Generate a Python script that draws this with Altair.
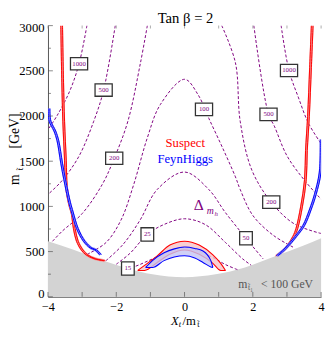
import altair as alt
import pandas as pd

# ---------------- data ----------------
# excluded region boundary (m_stop1 < 100 GeV)
gray_x = [-4.0, -3.23, -2.37, -1.66, -0.94, 0.0, 0.91, 1.77, 2.69, 3.49, 4.0]
gray_y = [615, 518, 399, 313, 248, 216, 248, 324, 453, 567, 647]

# Suspect (red) left / right branches
red_l_x = [-3.60, -3.57, -3.54, -3.49, -3.46, -3.37, -3.29, -3.23, -3.14, -3.00, -2.86, -2.63, -2.34]
red_l_y = [3000, 2374, 1942, 1511, 1219, 1025, 917, 755, 615, 518, 464, 421, 399]
red_r_x = [3.74, 3.69, 3.63, 3.57, 3.54, 3.43, 3.29, 3.20, 2.97, 2.69]
red_r_y = [3000, 2536, 1996, 1619, 1295, 1003, 755, 669, 540, 453]
# FeynHiggs (blue) left / right branches
blue_l_x = [-3.97, -3.94, -3.80, -3.71, -3.60, -3.51, -3.37, -3.29, -3.14, -2.94, -2.74, -2.60, -2.46]
blue_l_y = [2083, 1942, 1834, 1726, 1478, 1295, 1047, 939, 755, 615, 540, 518, 464]
blue_r_x = [4.0, 3.97, 3.83, 3.69, 3.49, 3.26, 2.97, 2.71]
blue_r_y = [1740, 1370, 1133, 971, 788, 669, 540, 453]

# central bands
red_c_x = [-1.37, -1.17, -0.80, -0.43, 0.0, 0.43, 0.83, 1.06, 1.20]
red_c_out = [291, 348, 453, 572, 615, 572, 464, 370, 291]
red_c_in = [291, 291, 380, 470, 518, 470, 370, 291, 291]
blue_c_x = [-1.14, -0.94, -0.60, -0.30, 0.0, 0.30, 0.54, 0.77, 0.83]
blue_c_out = [324, 400, 486, 530, 550, 535, 507, 400, 324]
blue_c_in = [324, 324, 400, 440, 453, 430, 380, 330, 324]

# fine-tuning contours (Delta), level -> branch points
contours = {
    "1000L": ([-2.86, -3.09, -3.37, -3.74, -4.0], [3000, 2578, 2270, 2000, 1850]),
    "500L": ([-2.03, -2.37, -2.66, -3.10, -3.60, -4.0], [3000, 2287, 1942, 1550, 1280, 1133]),
    "200L": ([-1.09, -1.29, -1.66, -2.06, -2.40, -3.00, -3.60, -3.90], [3000, 2590, 1942, 1532, 1250, 920, 720, 600]),
    "100": ([-2.85, -2.30, -1.86, -1.49, -1.09, -0.71, 0.0, 0.40, 0.71, 1.11, 1.49, 1.63, 2.00, 2.60, 3.20],
            [470, 600, 850, 1241, 1759, 2126, 2406, 2233, 1975, 1651, 1327, 1187, 900, 680, 545]),
    "50": ([-2.30, -1.80, -1.30, -0.80, 0.0, 0.71, 1.20, 1.80, 2.30],
           [400, 580, 850, 1187, 1380, 1187, 930, 647, 420]),
    "25": ([-2.0, -1.6, -1.09, -0.6, 0.0, 0.6, 1.2, 1.7, 1.95],
           [360, 480, 690, 800, 863, 800, 600, 420, 350]),
    "15": ([-1.70, -1.46, -0.8, 0.0, 0.8, 1.2, 1.55], [308, 334, 440, 550, 440, 356, 300]),
    "200R": ([1.09, 1.49, 1.63, 1.97, 2.54, 3.20, 4.0], [3000, 2590, 1942, 1403, 1047, 810, 700]),
    "500R": ([2.03, 2.46, 2.63, 3.00, 3.50, 4.0], [3000, 2018, 1888, 1560, 1295, 1079]),
    "1000R": ([2.83, 3.06, 3.34, 3.63, 4.0], [3000, 2503, 2200, 1920, 1694]),
}

label_text = ["1000", "500", "200", "100", "500", "1000", "200", "50", "25", "15"]
label_x = [-3.09, -2.37, -2.06, 0.57, 2.46, 3.06, 2.54, 1.80, -1.09, -1.66]
label_y = [2578, 2287, 1532, 2073, 2018, 2503, 1047, 647, 690, 313]

x_ticks = [-4, -2, 0, 2, 4]
x_minor = [-3, -1, 1, 3]
y_ticks = [0, 500, 1000, 1500, 2000, 2500, 3000]
y_minor = [250, 750, 1250, 1750, 2250, 2750]

# ---------------- build tables ----------------
gray_df = pd.DataFrame({"x": gray_x, "y": gray_y})

def branch(xs, ys, name):
    return pd.DataFrame({"x": xs, "y": ys, "o": range(len(xs)), "b": name})

red_side = pd.concat([branch(red_l_x, red_l_y, "L"), branch(red_r_x, red_r_y, "R")])
blue_side = pd.concat([branch(blue_l_x, blue_l_y, "L"), branch(blue_r_x, blue_r_y, "R")])
red_c = pd.DataFrame({"x": red_c_x, "y": red_c_out, "y2": red_c_in})
blue_c = pd.DataFrame({"x": blue_c_x, "y": blue_c_out, "y2": blue_c_in})

rows = []
for k, (xs_, ys_) in contours.items():
    for i, (a, b) in enumerate(zip(xs_, ys_)):
        rows.append({"c": k, "o": i, "x": a, "y": b})
cont_df = pd.DataFrame(rows)
lab_df = pd.DataFrame({"t": label_text, "x": label_x, "y": label_y})

W, H = 280, 278
xs = alt.Scale(domain=[-4, 4], nice=False, zero=False)
ys = alt.Scale(domain=[0, 3000], nice=False, zero=False)
SERIF = "Liberation Serif, Times New Roman, Times, serif"
PURPLE = "#800080"

X = alt.X("x:Q", scale=xs, axis=alt.Axis(values=x_ticks, title=None, grid=False, labelFont=SERIF,
                                          labelFontSize=12.5, labelColor="black", tickSize=0, format="d",
                                          labelPadding=4, domainColor="#555", labelFlush=False))
Y = alt.Y("y:Q", scale=ys, axis=alt.Axis(values=y_ticks, title=None, grid=False, labelFont=SERIF,
                                          labelFontSize=13, labelColor="black", tickSize=0, format="d",
                                          labelPadding=4, domainColor="#555", labelFlush=True,
                                          labelFlushOffset=4))

gray = alt.Chart(gray_df).mark_area(color="#d3d3d3", opacity=1, interpolate="monotone").encode(
    x=X, y=Y, y2=alt.datum(0))

cont = alt.Chart(cont_df).mark_line(color=PURPLE, strokeDash=[3, 2], strokeWidth=1,
                                    interpolate="catmull-rom", clip=True).encode(
    x="x:Q", y="y:Q", detail="c:N", order="o:Q")

def side(df, col, light):
    base = alt.Chart(df)
    under = base.mark_line(color=light, strokeWidth=3, interpolate="catmull-rom", clip=True).encode(
        x="x:Q", y="y:Q", detail="b:N", order="o:Q")
    a = base.transform_calculate(xa="datum.x - 0.025").mark_line(
        color=col, strokeWidth=1, interpolate="catmull-rom", clip=True).encode(
        x="xa:Q", y="y:Q", detail="b:N", order="o:Q")
    b = base.transform_calculate(xb="datum.x + 0.025").mark_line(
        color=col, strokeWidth=1, interpolate="catmull-rom", clip=True).encode(
        x="xb:Q", y="y:Q", detail="b:N", order="o:Q")
    return under + a + b

def center(df, col, light):
    base = alt.Chart(df)
    fill = base.mark_area(color=light, opacity=0.8, interpolate="monotone").encode(x="x:Q", y="y:Q", y2="y2:Q")
    l1 = base.mark_line(color=col, strokeWidth=1.1, interpolate="monotone").encode(x="x:Q", y="y:Q")
    l2 = base.mark_line(color=col, strokeWidth=1.1, interpolate="monotone").encode(x="x:Q", y="y2:Q")
    return fill + l1 + l2

# inward frame ticks
xt_major = alt.Chart(pd.DataFrame({"x": x_ticks + x_minor})).mark_tick(
    color="#555", thickness=1, size=5).encode(x="x:Q", y=alt.value(H - 2.5))
xt_top = alt.Chart(pd.DataFrame({"x": x_ticks + x_minor})).mark_tick(
    color="#888", thickness=1, size=3).encode(x="x:Q", y=alt.value(1.5))
yt_major = alt.Chart(pd.DataFrame({"y": y_ticks})).mark_tick(
    color="#555", thickness=1, size=5).encode(y="y:Q", x=alt.value(2.5))
yt_minor = alt.Chart(pd.DataFrame({"y": y_minor})).mark_tick(
    color="#555", thickness=1, size=3).encode(y="y:Q", x=alt.value(1.5))

box_wide = alt.Chart(lab_df).transform_filter("length(datum.t) >= 3").mark_point(
    shape="M -1 -0.72 L 1 -0.72 L 1 0.72 L -1 0.72 Z", size=310, filled=True, fill="white",
    stroke="#333", strokeWidth=1.3, opacity=1).encode(x="x:Q", y="y:Q")
box_nar = alt.Chart(lab_df).transform_filter("length(datum.t) < 3").mark_point(
    shape="M -1 -1.05 L 1 -1.05 L 1 1.05 L -1 1.05 Z", size=169, filled=True, fill="white",
    stroke="#333", strokeWidth=1.3, opacity=1).encode(x="x:Q", y="y:Q")
box_txt = alt.Chart(lab_df).mark_text(font=SERIF, fontSize=7, color=PURPLE).encode(
    x="x:Q", y="y:Q", text="t:N")

ann_df = pd.DataFrame({"x": [0.02, 0.02], "y": [1700, 1520], "t": ["Suspect", "FeynHiggs"], "c": ["red", "blue"]})
ann = alt.Chart(ann_df).mark_text(font=SERIF, fontSize=13).encode(
    x="x:Q", y="y:Q", text="t:N", color=alt.Color("c:N", scale=None))

delta = alt.Chart(pd.DataFrame({"x": [0.42], "y": [1010]})).mark_text(
    font=SERIF, fontSize=16, color=PURPLE, text="Δ").encode(x="x:Q", y="y:Q")
delta_sub = alt.Chart(pd.DataFrame({"x": [0.75], "y": [945]})).mark_text(
    font=SERIF, fontSize=10, color=PURPLE, text="m", fontStyle="italic").encode(x="x:Q", y="y:Q")
delta_sub2 = alt.Chart(pd.DataFrame({"x": [0.93], "y": [915]})).mark_text(
    font=SERIF, fontSize=7, color=PURPLE, text="h", fontStyle="italic").encode(x="x:Q", y="y:Q")

excl_m = alt.Chart(pd.DataFrame({"x": [1.57], "y": [140]})).mark_text(
    font=SERIF, fontSize=12, color="#555", text="m", align="left").encode(x="x:Q", y="y:Q")
excl_s = alt.Chart(pd.DataFrame({"x": [1.86], "y": [100]})).mark_text(
    font=SERIF, fontSize=8, color="#555", text="t̃₁", align="left").encode(x="x:Q", y="y:Q")
excl = alt.Chart(pd.DataFrame({"x": [2.24], "y": [140]})).mark_text(
    font=SERIF, fontSize=12, color="#555", text="< 100 GeV", align="left").encode(x="x:Q", y="y:Q")

# axis titles / chart title as text
one = pd.DataFrame({"a": [0]})
title = alt.Chart(one).mark_text(
    font=SERIF, fontSize=15, color="black", text="Tan β = 2", baseline="alphabetic").encode(
    x=alt.value(W / 2 + 1), y=alt.value(-3))
yt_m = alt.Chart(one).mark_text(
    font=SERIF, fontSize=14, color="black", text="m", angle=270, baseline="top").encode(
    x=alt.value(-41), y=alt.value(158))
yt_s = alt.Chart(one).mark_text(
    font=SERIF, fontSize=9, color="black", text="t̃", angle=270, baseline="top").encode(
    x=alt.value(-33), y=alt.value(147))
yt_g = alt.Chart(one).mark_text(
    font=SERIF, fontSize=14, color="black", text="[GeV]", angle=270, baseline="top").encode(
    x=alt.value(-41), y=alt.value(108))
xt1 = alt.Chart(one).mark_text(
    font=SERIF, fontSize=13, color="black", text="X", fontStyle="italic", align="right",
    baseline="alphabetic").encode(x=alt.value(W / 2 - 6), y=alt.value(H + 29))
xt2 = alt.Chart(one).mark_text(
    font=SERIF, fontSize=8.5, color="black", text="t", fontStyle="italic", align="left",
    baseline="alphabetic").encode(x=alt.value(W / 2 - 6), y=alt.value(H + 30.5))
xt3 = alt.Chart(one).mark_text(
    font=SERIF, fontSize=13, color="black", text="/m", align="left",
    baseline="alphabetic").encode(x=alt.value(W / 2 - 2), y=alt.value(H + 29))
xt4 = alt.Chart(one).mark_text(
    font=SERIF, fontSize=8.5, color="black", text="t̃", align="left",
    baseline="alphabetic").encode(x=alt.value(W / 2 + 13), y=alt.value(H + 30.5))

chart = alt.layer(
    gray, cont,
    center(red_c, "#ff0000", "#f6c4c8"), center(blue_c, "#0000ff", "#c4c4f4"),
    side(red_side, "#ff0000", "#f49a9a"), side(blue_side, "#0000ff", "#9a9af4"),
    xt_major, xt_top, yt_major, yt_minor,
    box_wide, box_nar, box_txt, ann, delta, delta_sub, delta_sub2, excl, excl_m, excl_s,
    title, yt_m, yt_s, yt_g, xt1, xt2, xt3, xt4,
).properties(
    width=W, height=H,
    autosize=alt.AutoSizeParams(type="none"),
    padding={"left": 41, "top": 14, "right": 4, "bottom": 30},
).configure_view(stroke=None).configure_axis(domainWidth=1)

chart.save("out.html", embed_options={"renderer": "svg", "actions": False})
